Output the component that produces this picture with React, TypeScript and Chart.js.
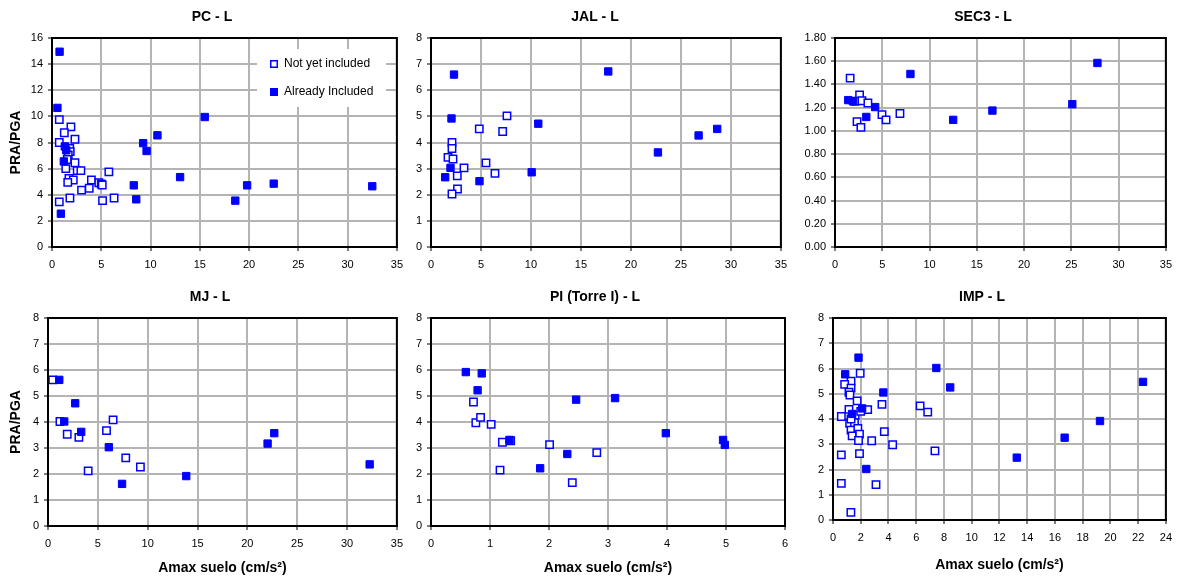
import React, { useEffect, useRef } from "react";
import { Chart, registerables } from "chart.js";

Chart.register(...registerables);

const FONT = "Arial, 'Liberation Sans', Helvetica, sans-serif";
Chart.defaults.font.family = FONT;
Chart.defaults.color = "#000";

const BLUE = "#0000FF";
const LABEL_NOT = "Not yet included";
const LABEL_IN = "Already Included";
const X_TITLE = "Amax suelo (cm/s\u00B2)";
const Y_TITLE = "PRA/PGA";

type P = [number, number];

// ---------- data: [Amax suelo, PRA/PGA] ----------
const PC_NOT: P[] = [
  [0.74, 9.75], [1.92, 9.2], [1.25, 8.75], [2.33, 8.25], [0.74, 8.0], [1.8, 7.55],
  [1.85, 7.3], [1.65, 7.05], [1.55, 6.7], [2.33, 6.45], [1.4, 6.0], [2.56, 5.85],
  [2.93, 5.85], [5.77, 5.75], [1.72, 5.25], [2.16, 5.13], [1.6, 4.95], [4.0, 5.13],
  [4.75, 4.92], [5.0, 4.82], [5.1, 4.75], [3.78, 4.5], [3.0, 4.35], [0.74, 3.45],
  [1.82, 3.75], [5.13, 3.55], [6.3, 3.75],
];
const PC_IN: P[] = [
  [0.77, 14.95], [0.55, 10.65], [0.9, 2.55], [1.3, 7.7], [1.45, 7.4], [1.2, 6.55],
  [9.25, 7.95], [9.6, 7.35], [10.7, 8.55], [15.5, 9.95], [8.3, 4.72], [8.55, 3.65],
  [13.0, 5.35], [18.6, 3.55], [19.8, 4.72], [22.5, 4.85], [32.5, 4.65],
];

const JAL_NOT: P[] = [
  [7.6, 5.02], [4.83, 4.52], [7.17, 4.42], [2.1, 4.0], [2.1, 3.77], [1.7, 3.43],
  [2.2, 3.37], [3.3, 3.03], [5.5, 3.22], [6.4, 2.82], [2.63, 2.72], [2.65, 2.22], [2.1, 2.03],
];
const JAL_IN: P[] = [
  [2.3, 6.6], [2.05, 4.92], [1.95, 3.03], [1.42, 2.67], [4.85, 2.52], [10.07, 2.86],
  [10.73, 4.72], [17.73, 6.72], [22.7, 3.62], [26.77, 4.27], [28.63, 4.52],
];

const SEC3_NOT: P[] = [
  [1.6, 1.455], [2.6, 1.31], [2.1, 1.255], [2.85, 1.26], [3.48, 1.24], [4.97, 1.14],
  [5.4, 1.095], [6.87, 1.15], [2.33, 1.08], [2.74, 1.03],
];
const SEC3_IN: P[] = [
  [1.4, 1.265], [1.9, 1.255], [4.25, 1.205], [3.31, 1.12], [7.98, 1.49], [12.5, 1.095],
  [16.65, 1.175], [25.1, 1.23], [27.76, 1.585],
];

const MJ_NOT: P[] = [
  [0.47, 5.62], [1.2, 4.02], [1.93, 3.53], [3.1, 3.41], [4.03, 2.12], [5.87, 3.67],
  [6.53, 4.08], [7.8, 2.62], [9.27, 2.27],
];
const MJ_IN: P[] = [
  [1.13, 5.62], [2.73, 4.72], [1.63, 4.02], [3.33, 3.62], [6.1, 3.03], [7.43, 1.62],
  [13.87, 1.92], [22.03, 3.17], [22.7, 3.57], [32.27, 2.37],
];

const PI_NOT: P[] = [
  [0.72, 4.77], [0.76, 3.97], [0.84, 4.18], [1.02, 3.91], [1.21, 3.22], [1.17, 2.15],
  [1.35, 3.28], [2.01, 3.13], [2.395, 1.67], [2.81, 2.82],
];
const PI_IN: P[] = [
  [0.59, 5.92], [0.86, 5.87], [0.79, 5.22], [2.46, 4.86], [3.12, 4.92], [1.33, 3.31],
  [1.85, 2.22], [2.31, 2.77], [3.98, 3.57], [4.95, 3.31], [4.98, 3.12],
];

const IMP_NOT: P[] = [
  [1.96, 5.81], [1.3, 5.5], [0.84, 5.37], [1.3, 5.22], [1.15, 5.06], [1.22, 4.95],
  [1.74, 4.72], [3.53, 4.58], [6.28, 4.52], [6.83, 4.27], [2.5, 4.37], [1.15, 4.38],
  [0.6, 4.1], [1.6, 4.15], [1.2, 3.83], [1.55, 3.85], [1.3, 3.56], [1.79, 3.63],
  [1.91, 3.4], [1.38, 3.33], [1.84, 3.15], [2.79, 3.14], [3.7, 3.5], [4.3, 2.98],
  [7.35, 2.74], [0.6, 2.58], [1.91, 2.63], [0.6, 1.45], [3.1, 1.4], [1.29, 0.3],
  [1.3, 4.0], [2.0, 4.3],
];
const IMP_IN: P[] = [
  [1.84, 6.43], [0.88, 5.77], [7.45, 6.02], [8.45, 5.25], [3.63, 5.05], [2.1, 4.42],
  [1.38, 4.2], [2.4, 2.02], [13.25, 2.47], [16.7, 3.26], [19.25, 3.92], [22.35, 5.47],
];

// ---------- panel layout ----------
type PanelSpec = {
  title: string;
  notYet: P[];
  included: P[];
  xMax: number; xStep: number;
  yMax: number; yStep: number; yDecimals: number;
  left: number; top: number; width: number; height: number;
  padTop: number; padRight: number; yAxisW: number; xAxisH: number;
  titleX: number; titleY: number;
  showYTitle: boolean; showXTitle: boolean; xTitlePad: number;
  legend: boolean;
};

const PANELS: PanelSpec[] = [
  { title: "PC - L", notYet: PC_NOT, included: PC_IN, xMax: 35, xStep: 5, yMax: 16, yStep: 2, yDecimals: 0,
    left: 0, top: 0, width: 410, height: 285, padTop: 38, padRight: 12, yAxisW: 52, xAxisH: 38,
    titleX: 212, titleY: 17, showYTitle: true, showXTitle: false, xTitlePad: 0, legend: true },
  { title: "JAL - L", notYet: JAL_NOT, included: JAL_IN, xMax: 35, xStep: 5, yMax: 8, yStep: 1, yDecimals: 0,
    left: 400, top: 0, width: 394, height: 285, padTop: 38, padRight: 12, yAxisW: 31, xAxisH: 38,
    titleX: 195, titleY: 17, showYTitle: false, showXTitle: false, xTitlePad: 0, legend: false },
  { title: "SEC3 - L", notYet: SEC3_NOT, included: SEC3_IN, xMax: 35, xStep: 5, yMax: 1.8, yStep: 0.2, yDecimals: 2,
    left: 790, top: 0, width: 389, height: 285, padTop: 38, padRight: 9, yAxisW: 45, xAxisH: 38,
    titleX: 193, titleY: 17, showYTitle: false, showXTitle: false, xTitlePad: 0, legend: false },
  { title: "MJ - L", notYet: MJ_NOT, included: MJ_IN, xMax: 35, xStep: 5, yMax: 8, yStep: 1, yDecimals: 0,
    left: 0, top: 283, width: 410, height: 296, padTop: 35, padRight: 12, yAxisW: 48, xAxisH: 53,
    titleX: 210, titleY: 14, showYTitle: true, showXTitle: true, xTitlePad: 2.6, legend: false },
  { title: "PI (Torre I) - L", notYet: PI_NOT, included: PI_IN, xMax: 6, xStep: 1, yMax: 8, yStep: 1, yDecimals: 0,
    left: 400, top: 283, width: 397, height: 296, padTop: 35, padRight: 12, yAxisW: 31, xAxisH: 53,
    titleX: 195, titleY: 14, showYTitle: false, showXTitle: true, xTitlePad: 2.6, legend: false },
  { title: "IMP - L", notYet: IMP_NOT, included: IMP_IN, xMax: 24, xStep: 2, yMax: 8, yStep: 1, yDecimals: 0,
    left: 790, top: 283, width: 389, height: 296, padTop: 35, padRight: 11, yAxisW: 43, xAxisH: 59,
    titleX: 192, titleY: 14, showYTitle: false, showXTitle: true, xTitlePad: 5.6, legend: false },
];

const toPts = (arr: P[]) => arr.map(([x, y]) => ({ x, y }));

function ScatterPanel({ spec }: { spec: PanelSpec }) {
  const ref = useRef<HTMLCanvasElement | null>(null);

  useEffect(() => {
    if (!ref.current) return;

    const framePlugin = {
      id: "plotFrame",
      afterDraw(chart: any) {
        const { ctx, chartArea: a } = chart;
        ctx.save();
        ctx.strokeStyle = "#000";
        ctx.lineWidth = 2;
        ctx.strokeRect(a.left, a.top, a.right - a.left, a.bottom - a.top);
        ctx.restore();
      },
    };

    const titlePlugin = {
      id: "panelTitle",
      afterDraw(chart: any) {
        const { ctx } = chart;
        ctx.save();
        ctx.font = `bold 14px ${FONT}`;
        ctx.fillStyle = "#000";
        ctx.textAlign = "center";
        ctx.textBaseline = "middle";
        ctx.fillText(spec.title, spec.titleX, spec.titleY);
        ctx.restore();
      },
    };

    const legendPlugin = {
      id: "boxLegend",
      afterDatasetsDraw(chart: any) {
        if (!spec.legend) return;
        const { ctx } = chart;
        const bx = 257, by = 49, bw = 129, bh = 58;
        ctx.save();
        ctx.fillStyle = "#fff";
        ctx.fillRect(bx, by, bw, bh);
        const rows = [chart.data.datasets[0], chart.data.datasets[1]];
        rows.forEach((ds: any, i: number) => {
          const cy = 64 + i * 28;
          const cx = 274;
          const s = 6.5;
          ctx.fillStyle = ds.backgroundColor;
          ctx.fillRect(cx - s / 2, cy - s / 2, s, s);
          ctx.strokeStyle = ds.borderColor;
          ctx.lineWidth = 1.5;
          ctx.strokeRect(cx - s / 2, cy - s / 2, s, s);
          ctx.fillStyle = "#000";
          ctx.font = `12px ${FONT}`;
          ctx.textAlign = "left";
          ctx.textBaseline = "middle";
          ctx.fillText(ds.label, 284, cy);
        });
        ctx.restore();
      },
    };

    const grid = {
      color: "#b4b4b4",
      lineWidth: 2,
      drawTicks: true,
      tickLength: 4,
      tickColor: "#000",
      tickWidth: 1,
    };

    const chart = new Chart(ref.current, {
      type: "scatter",
      data: {
        datasets: [
          {
            label: LABEL_NOT,
            data: toPts(spec.notYet),
            pointStyle: "rect",
            pointRadius: 5.2,
            pointHoverRadius: 5.2,
            backgroundColor: "#ffffff",
            borderColor: BLUE,
            pointBorderWidth: 1.5,
            order: 1,
          },
          {
            label: LABEL_IN,
            data: toPts(spec.included),
            pointStyle: "rect",
            pointRadius: 5.2,
            pointHoverRadius: 5.2,
            backgroundColor: BLUE,
            borderColor: BLUE,
            pointBorderWidth: 1,
            order: 0,
          },
        ],
      },
      options: {
        responsive: false,
        animation: false,
        devicePixelRatio: 1,
        layout: { padding: { left: 0, right: spec.padRight, top: spec.padTop, bottom: 0 } },
        plugins: {
          legend: { display: false },
          title: { display: false },
          tooltip: { enabled: false },
        },
        scales: {
          x: {
            type: "linear",
            min: 0,
            max: spec.xMax,
            ticks: {
              stepSize: spec.xStep,
              autoSkip: false,
              maxRotation: 0,
              padding: 7,
              color: "#000",
              font: { size: 11, family: FONT },
            },
            grid,
            border: { display: true, color: "#000", width: 2 },
            title: {
              display: spec.showXTitle,
              text: X_TITLE,
              color: "#000",
              font: { size: 14, weight: "bold", family: FONT },
              padding: { top: 0, bottom: spec.xTitlePad },
            },
            afterFit: (s: any) => { s.height = spec.xAxisH; },
          },
          y: {
            type: "linear",
            min: 0,
            max: spec.yMax,
            ticks: {
              stepSize: spec.yStep,
              padding: 5,
              color: "#000",
              font: { size: 11, family: FONT },
              callback: (v: any) => Number(v).toFixed(spec.yDecimals),
            },
            grid,
            border: { display: true, color: "#000", width: 2 },
            title: {
              display: spec.showYTitle,
              text: Y_TITLE,
              color: "#000",
              font: { size: 14, weight: "bold", family: FONT },
              padding: { top: 7.6, bottom: 0 },
            },
            afterFit: (s: any) => { s.width = spec.yAxisW; },
          },
        },
      } as any,
      plugins: [legendPlugin, framePlugin, titlePlugin],
    });

    return () => chart.destroy();
  }, [spec]);

  return (
    <canvas
      ref={ref}
      width={spec.width}
      height={spec.height}
      style={{
        position: "absolute",
        left: spec.left,
        top: spec.top,
        width: spec.width,
        height: spec.height,
      }}
    />
  );
}

export default function App() {
  return (
    <div
      style={{
        position: "fixed",
        left: 0,
        top: 0,
        width: 1179,
        height: 579,
        background: "#fff",
        overflow: "hidden",
      }}
    >
      {PANELS.map((p) => (
        <ScatterPanel key={p.title} spec={p} />
      ))}
    </div>
  );
}
